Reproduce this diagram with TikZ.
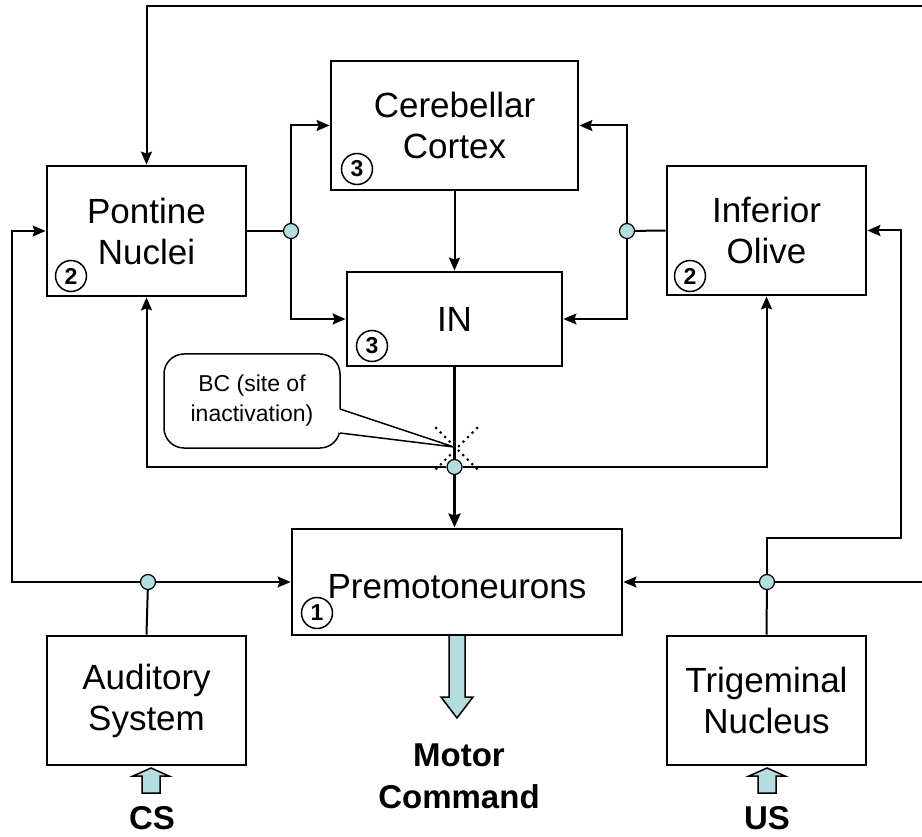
\documentclass[tikz,border=0pt]{standalone}
\usepackage{fontspec}
\setmainfont{Liberation Sans}
\usetikzlibrary{arrows.meta,positioning,calc}
\pgfdeclarelayer{bg}
\pgfsetlayers{bg,main}
\definecolor{paleblue}{RGB}{180,221,224}

\begin{document}
\begin{tikzpicture}[x=1pt,y=-1pt,
    box/.style={draw, line width=2.8pt, align=center, inner sep=0pt, font=\fontsize{35}{41}\selectfont},
    num/.style={draw, circle, line width=1.5pt, minimum size=31pt, inner sep=0pt, font=\bfseries\fontsize{23}{23}\selectfont},
    junc/.style={draw, circle, fill=paleblue, line width=1.2pt, minimum size=15pt, inner sep=0pt},
    link/.style={line width=2pt},
    arr/.style={link, -{Stealth[length=13pt,width=11pt,inset=2pt]}},
    bigarr/.style={draw, line width=1.5pt, fill=paleblue, line join=miter},
    lbl/.style={font=\bfseries\fontsize{33}{42}\selectfont, align=center}]
    \useasboundingbox (0,0) rectangle (922,837);

    % boxes
    \node [box, minimum width=199pt, minimum height=130pt] (pontine) at (146.5,231) {Pontine\\Nuclei};
    \node [box, minimum width=247pt, minimum height=129pt] (cortex) at (454.5,125.5) {Cerebellar\\Cortex};
    \node [box, minimum width=199pt, minimum height=129pt] (olive) at (766.5,230.5) {Inferior\\Olive};
    \node [box, minimum width=215pt, minimum height=94pt] (innuc) at (454.5,319) {IN};
    \node [box, minimum width=330pt, minimum height=106pt, text height=33pt, text depth=0pt] (premotor) at (457,582) {Premotoneurons};
    \node [box, minimum width=199pt, minimum height=129pt] (auditory) at (146.5,700.5) {Auditory\\System};
    \node [box, minimum width=199pt, minimum height=129pt] (trigem) at (766.5,700.5) {Trigeminal\\Nucleus};

    % circled numbers
    \node [num] (n-pontine) at (71,276) {2};
    \node [num] (n-cortex) at (357,169) {3};
    \node [num] (n-olive) at (690,276) {2};
    \node [num] (n-in) at (372,346) {3};
    \node [num] (n-premotor) at (317,613) {1};

    % junctions
    \node [junc] (jl) at (291,231) {};
    \node [junc] (jr) at (627,231) {};
    \node [junc] (jbc) at (454.5,467) {};
    \node [junc] (jaud) at (148,582) {};
    \node [junc] (jtri) at (767,582) {};

    \coordinate (lft) at (12,582);
    \coordinate (rgt) at (901,538);
    \coordinate (topr) at (930,6);

    % callout
    \node [draw, rounded corners=20pt, line width=1.5pt, minimum width=176pt, minimum height=94pt,
           align=center, font=\fontsize{23}{30}\selectfont] (bc) at (252,401) {BC (site of\\inactivation)};
    \coordinate (bctip) at (454,447);
    \fill [white] ($(bc.east)+(-2,8)$) -- (bctip) -- ($(bc.east)+(-2,32)$) -- cycle;
    \draw [line width=1.5pt] ($(bc.east)+(-0.75,8)$) -- (bctip) -- ($(bc.east)+(-0.75,32)$);

    % outputs and inputs
    \node [lbl] (motor) at (459,776) {Motor\\Command};
    \node [lbl] (cs) at (152,818) {CS};
    \node [lbl] (us) at (767,818) {US};

    \begin{pgfonlayer}{bg}
        \draw [link] (pontine.east) -- (jl);
        \draw [arr] (jl) |- (cortex.west);
        \draw [arr] (jl) |- (innuc.west);
        \draw [link] (olive.west) -- (jr);
        \draw [arr] (jr) |- (cortex.east);
        \draw [arr] (jr) |- (innuc.east);
        \draw [arr] (cortex.south) -- (innuc.north);
        \draw [line width=3pt, line cap=round, dash pattern=on 0pt off 6.4pt] (436,428) -- (480,472);
        \draw [line width=3pt, line cap=round, dash pattern=on 0pt off 6.4pt] (477,428) -- (433,472);
        \draw [line width=3.5pt, -{Stealth[length=14pt,width=12pt,inset=2pt]}] (innuc.south) -- (innuc.south |- premotor.north);
        \draw [arr] (jbc) -| (pontine.south);
        \draw [arr] (jbc) -| (olive.south);
        \draw [link] (auditory.north) -- (jaud);
        \draw [arr] (jaud) -- (lft) |- (pontine.west);
        \draw [arr] (jaud) -- (premotor.west);
        \draw [link] (trigem.north) -- (jtri);
        \draw [arr] (jtri) -- (premotor.east);
        \draw [arr] (jtri) |- (rgt) |- (olive.east);
        \draw [arr] (jtri) -| (topr) -| (pontine.north);
    \end{pgfonlayer}

    % block arrows
    \draw [bigarr] (449,636) -- (449,697) -- (441,697) -- (457,718) -- (473,697) -- (465,697) -- (465,636);
    \draw [bigarr] (142,793) -- (142,776) -- (133,776) -- (151,768) -- (169,776) -- (160,776) -- (160,793) -- cycle;
    \draw [bigarr] (758,793) -- (758,776) -- (749,776) -- (767,768) -- (785,776) -- (776,776) -- (776,793) -- cycle;
\end{tikzpicture}
\end{document}
